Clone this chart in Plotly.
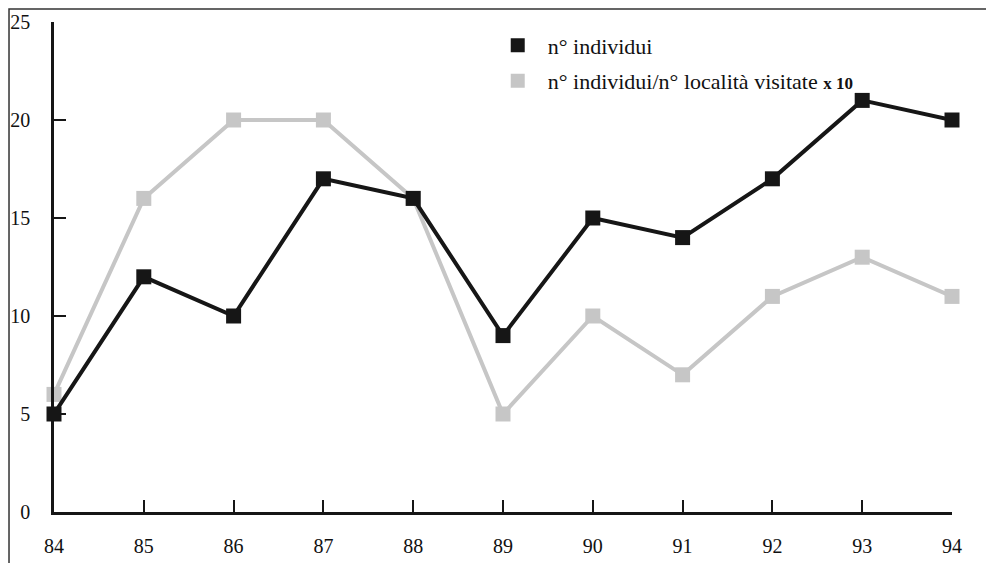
import plotly.graph_objects as go

# years (19xx) and the two series
years = [84, 85, 86, 87, 88, 89, 90, 91, 92, 93, 94]
individui = [5, 12, 10, 17, 16, 9, 15, 14, 17, 21, 20]
individui_per_localita = [6, 16, 20, 20, 16, 5, 10, 7, 11, 13, 11]

y_ticks = [0, 5, 10, 15, 20, 25]

BLACK = '#161616'
GREY = '#c6c6c6'
FONT = 'Liberation Serif, Times New Roman, serif'

fig = go.Figure()

# grey series drawn first so the black one sits on top
fig.add_trace(
    go.Scatter(
        x=years, y=individui_per_localita, mode='lines+markers',
        line=dict(color=GREY, width=4),
        marker=dict(symbol='square', size=15, color=GREY),
        showlegend=False, hoverinfo='skip', cliponaxis=False
    )
)
fig.add_trace(
    go.Scatter(
        x=years, y=individui, mode='lines+markers',
        line=dict(color=BLACK, width=4),
        marker=dict(symbol='square', size=15, color=BLACK),
        showlegend=False, hoverinfo='skip', cliponaxis=False
    )
)

# legend entries: only a square marker, like the original
fig.add_trace(
    go.Scatter(
        x=[None], y=[None], mode='markers', name='n° individui',
        marker=dict(symbol='square', size=14, color=BLACK),
        legendgroup='a'
    )
)
fig.add_trace(
    go.Scatter(
        x=[None], y=[None], mode='markers',
        name='n° individui/n° località visitate <span style="font-size:17px"><b>x 10</b></span>',
        marker=dict(symbol='square', size=14, color=GREY),
        legendgroup='b'
    )
)

# thin frame around the whole picture
fig.add_shape(
    type='rect', xref='paper', yref='paper',
    x0=-0.0501, x1=1.0401, y0=-0.2, y1=1.0265,
    line=dict(color='#333333', width=1.5), layer='below'
)

# the page adds an 8px body margin, so the figure is 8px smaller
fig.update_layout(
    template='none',
    width=986, height=555,
    margin=dict(l=46, r=42, t=14, b=51),
    paper_bgcolor='white', plot_bgcolor='white',
    font=dict(family=FONT, size=20, color='#111111'),
    legend=dict(
        x=0.483, y=0.995, xanchor='left', yanchor='top',
        bgcolor='rgba(0,0,0,0)', font=dict(size=22),
        tracegroupgap=4, itemwidth=50
    ),
    xaxis=dict(
        range=[84, 94], tickvals=years, ticks='inside', ticklen=12,
        tickwidth=2, tickcolor=BLACK, showline=True, linecolor=BLACK,
        linewidth=2.5, showgrid=False, zeroline=False,
        ticklabelstandoff=14, automargin=False
    ),
    yaxis=dict(
        range=[0, 25], tickvals=y_ticks, ticks='inside', ticklen=12,
        tickwidth=2, tickcolor=BLACK, showline=True, linecolor=BLACK,
        linewidth=2.5, showgrid=False, zeroline=False,
        ticklabelstandoff=17, automargin=False
    ),
)

fig.write_html("out.html")
